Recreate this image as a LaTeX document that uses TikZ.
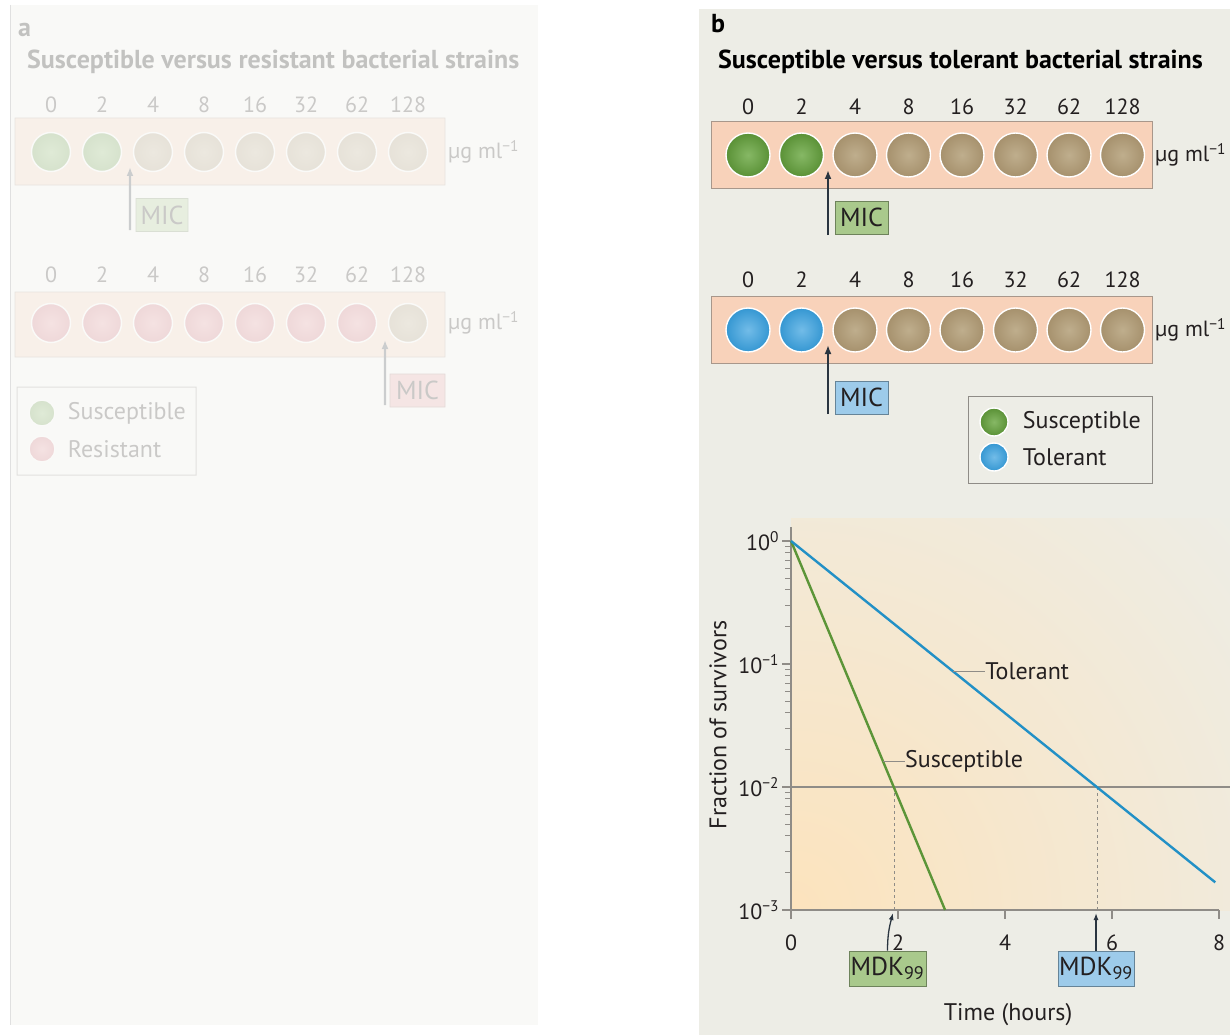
\documentclass[tikz,border=0pt]{standalone}
\usepackage{fontspec}
\setmainfont{PT Sans}
\usepackage{tikz}
\usetikzlibrary{arrows.meta,positioning}

\definecolor{panelA}{HTML}{F9F9F7}
\definecolor{panelB}{HTML}{EDEDE6}
\definecolor{plateFill}{HTML}{F8D2BA}
\definecolor{plateEdge}{HTML}{A8978B}
\definecolor{Lsus}{HTML}{86B865}
\definecolor{Dsus}{HTML}{5A9136}
\definecolor{Ltol}{HTML}{72BCE8}
\definecolor{Dtol}{HTML}{3597D2}
\definecolor{Lres}{HTML}{E8949B}
\definecolor{Dres}{HTML}{CC6470}
\definecolor{Ldead}{HTML}{BFAE8D}
\definecolor{Ddead}{HTML}{A6916D}
\definecolor{micGrn}{HTML}{A9C98C}
\definecolor{micBlu}{HTML}{9DCBEA}
\definecolor{micRed}{HTML}{E8A0A3}
\definecolor{ink}{HTML}{2A3540}
\definecolor{axisGray}{HTML}{8F8C87}
\definecolor{warm}{HTML}{FCE3BD}
\definecolor{susLine}{HTML}{5C9538}
\definecolor{tolLine}{HTML}{2290C6}
\definecolor{txt}{HTML}{231F20}

\tikzset{
  well/.style={circle, draw=white, line width=1.4pt, inner sep=0pt, minimum size=#1},
  well/.default=44pt,
  wellfill/.style={inner color=L#1, outer color=D#1},
  plate/.style={draw=plateEdge, fill=plateFill, line width=0.9pt},
  tag/.style={draw=#1!65!black, fill=#1, line width=0.8pt, inner sep=0pt,
    minimum height=33pt, text=txt, font=\fontsize{26}{30}\selectfont},
  conc/.style={text=txt, font=\fontsize{22}{26}\selectfont},
  legtxt/.style={text=txt, font=\fontsize{24}{28}\selectfont},
  heading/.style={text=black, font=\fontsize{26}{30}\selectfont\bfseries},
  ticklbl/.style={text=txt, font=\fontsize{22}{26}\selectfont},
  axlbl/.style={text=txt, font=\fontsize{24}{28}\selectfont},
  arr/.style={-{Latex[length=9pt,width=7pt]}, line width=2.2pt, draw=ink},
  thinarr/.style={-{Latex[length=7pt,width=5pt]}, line width=1.3pt, draw=ink},
  legendbox/.style={draw=axisGray, line width=1pt},
  axisline/.style={draw=axisGray, line width=1.3pt},
}

\begin{document}
\begin{tikzpicture}[x=1pt, y=-1pt, every node/.style={inner sep=0pt}]
    \useasboundingbox (0,0) rectangle (1230,1035);
    \clip (0,0) rectangle (1230,1035);
    \fill[white] (0,0) rectangle (1230,1035);

    % panel backgrounds
    \fill[panelA] (10,5) rectangle (538,1025);
    \draw[black!12, line width=1pt] (10,5) -- (10,1025);
    \fill[panelB] (699,9) rectangle (1230,1035);

    % panel a (faded)
    \begin{scope}[opacity=0.22, transparency group]
        \node (tagA) [heading, anchor=west] at (18,30) {a};
        \node (titleA) [heading, anchor=west] at (27,62) {Susceptible versus resistant bacterial strains};

        \node (plateA1) [plate, minimum width=430pt, minimum height=67pt] at (230,151.5) {};
        \foreach \c [count=\k from 0] in {0,2,4,8,16,32,62,128}
            \node (concA1-\k) [conc] at ({51+51*\k},105) {\c};
        \foreach \s [count=\k from 0] in {sus,sus,dead,dead,dead,dead,dead,dead}
            \node (wA1-\k) [well=39pt, wellfill=\s] at ({51+51*\k},152) {};
        \node (unitA1) [conc, anchor=west] at (448,152) {µg ml\textsuperscript{−1}};
        \node (micA1) [tag=micGrn, minimum width=52pt] at (162,215) {MIC};
        \coordinate (micA1foot) at (130,230);
        \coordinate (micA1tip) at (130,167);
        \draw[arr] (micA1foot) -- (micA1tip);

        \node (plateA2) [plate, minimum width=430pt, minimum height=65pt] at (230,324.5) {};
        \foreach \c [count=\k from 0] in {0,2,4,8,16,32,62,128}
            \node (concA2-\k) [conc] at ({51+51*\k},275) {\c};
        \foreach \s [count=\k from 0] in {res,res,res,res,res,res,res,dead}
            \node (wA2-\k) [well=39pt, wellfill=\s] at ({51+51*\k},323) {};
        \node (unitA2) [conc, anchor=west] at (448,323) {µg ml\textsuperscript{−1}};
        \node (micA2) [tag=micRed, minimum width=55pt] at (417.5,390.5) {MIC};
        \coordinate (micA2foot) at (385,405);
        \coordinate (micA2tip) at (385,340);
        \draw[arr] (micA2foot) -- (micA2tip);

        \draw[legendbox] (17,387) rectangle (196,475);
        \node (legA1) [well=26pt, wellfill=sus] at (42,413) {};
        \node (legA1txt) [legtxt, right=12pt of legA1] {Susceptible};
        \node (legA2) [well=26pt, wellfill=res] at (42,449) {};
        \node (legA2txt) [legtxt, right=12pt of legA2] {Resistant};
    \end{scope}

    % panel b
    \node (tagB) [heading, anchor=west] at (711,24) {b};
    \node (titleB) [heading, anchor=west] at (718,62) {Susceptible versus tolerant bacterial strains};

    \node (plateB1) [plate, minimum width=441pt, minimum height=67pt] at (931.5,154.5) {};
    \foreach \c [count=\k from 0] in {0,2,4,8,16,32,62,128}
        \node (concB1-\k) [conc] at ({748+53.5*\k},107) {\c};
    \foreach \s [count=\k from 0] in {sus,sus,dead,dead,dead,dead,dead,dead}
        \node (wB1-\k) [well, wellfill=\s] at ({748+53.5*\k},155) {};
    \node (unitB1) [conc, anchor=west] at (1155,155) {µg ml\textsuperscript{−1}};
    \node (micB1) [tag=micGrn, minimum width=53pt] at (861.5,217.5) {MIC};
    \coordinate (micB1foot) at (828,235);
    \coordinate (micB1tip) at (828,170);
    \draw[arr] (micB1foot) -- (micB1tip);

    \node (plateB2) [plate, minimum width=441pt, minimum height=67pt] at (931.5,329.5) {};
    \foreach \c [count=\k from 0] in {0,2,4,8,16,32,62,128}
        \node (concB2-\k) [conc] at ({748+53.5*\k},280) {\c};
    \foreach \s [count=\k from 0] in {tol,tol,dead,dead,dead,dead,dead,dead}
        \node (wB2-\k) [well, wellfill=\s] at ({748+53.5*\k},330) {};
    \node (unitB2) [conc, anchor=west] at (1155,330) {µg ml\textsuperscript{−1}};
    \node (micB2) [tag=micBlu, minimum width=53pt] at (861.5,397.5) {MIC};
    \coordinate (micB2foot) at (828,414);
    \coordinate (micB2tip) at (828,345);
    \draw[arr] (micB2foot) -- (micB2tip);

    \draw[legendbox] (968,396) rectangle (1152,483);
    \node (legB1) [well=28pt, wellfill=sus] at (994,422) {};
    \node (legB1txt) [legtxt, right=14pt of legB1] {Susceptible};
    \node (legB2) [well=28pt, wellfill=tol] at (994,457) {};
    \node (legB2txt) [legtxt, right=14pt of legB2] {Tolerant};

    % killing curves
    \begin{scope}
        \clip (791,518) rectangle (1230,910);
        \shade[inner color=warm, outer color=panelB] (791,910) circle (600);
    \end{scope}

    \begin{scope}[shift={(791,910)}, x=53.5pt, y=123pt]
        \draw[axisline] (0,3.11) -- (0,0) -- (8,0);
        \foreach \e in {0,1,2,3}
            \draw[axisline] (0,\e) -- (-0.17,\e);
        \foreach \d in {0,1,2}
            \foreach \m in {2,...,9}
                \draw[axisGray, line width=1pt] (0,{\d+log10(\m)}) -- (-0.11,{\d+log10(\m)});
        \foreach \t in {0,2,4,6,8}
            \draw[axisline] (\t,0) -- (\t,-0.07);
        \foreach \e/\lab in {0/0,1/−1,2/−2,3/−3}
            \node (ytick\e) [ticklbl, anchor=east] at (-0.22,3-\e) {10\textsuperscript{\lab}};
        \foreach \t in {0,2,4,6,8}
            \node (xtick\t) [ticklbl, anchor=north] at (\t,-0.2) {\t};

        \draw[axisGray, line width=1.1pt] (0,1) -- (8.3,1);
        \draw[axisGray, dashed, line width=1pt] (1.93,1) -- (1.93,0);
        \draw[axisGray, dashed, line width=1pt] (5.72,1) -- (5.72,0);
        \draw[susLine, line width=2.4pt] (0,3) -- (2.88,0);
        \draw[tolLine, line width=2.4pt] (0,3) -- (7.93,0.225);

        \coordinate (tolPt) at (3.03,1.94);
        \node (tolLbl) [legtxt, anchor=west] at (3.63,1.94) {Tolerant};
        \draw[axisGray, line width=1pt] (tolPt) -- (tolLbl.west);
        \coordinate (susPt) at (1.72,1.21);
        \node (susLbl) [legtxt, anchor=west] at (2.13,1.21) {Susceptible};
        \draw[axisGray, line width=1pt] (susPt) -- (susLbl.west);
    \end{scope}

    \node (mdkSus) [tag=micGrn, minimum width=77pt, minimum height=35pt] at (887.5,968.5) {MDK\textsubscript{99}};
    \node (mdkTol) [tag=micBlu, minimum width=76pt, minimum height=35pt] at (1096,968.5) {MDK\textsubscript{99}};
    \coordinate (mdkSusTip) at (893,913);
    \coordinate (mdkTolTip) at (1096,913);
    \draw[thinarr] (mdkSus.north) to[out=90, in=-105] (mdkSusTip);
    \draw[thinarr] (mdkTol.north) -- (mdkTolTip);

    \node (timeLbl) [axlbl] at (1008,1015) {Time (hours)};
    \node (fracLbl) [axlbl, rotate=90] at (718,725) {Fraction of survivors};
\end{tikzpicture}
\end{document}
